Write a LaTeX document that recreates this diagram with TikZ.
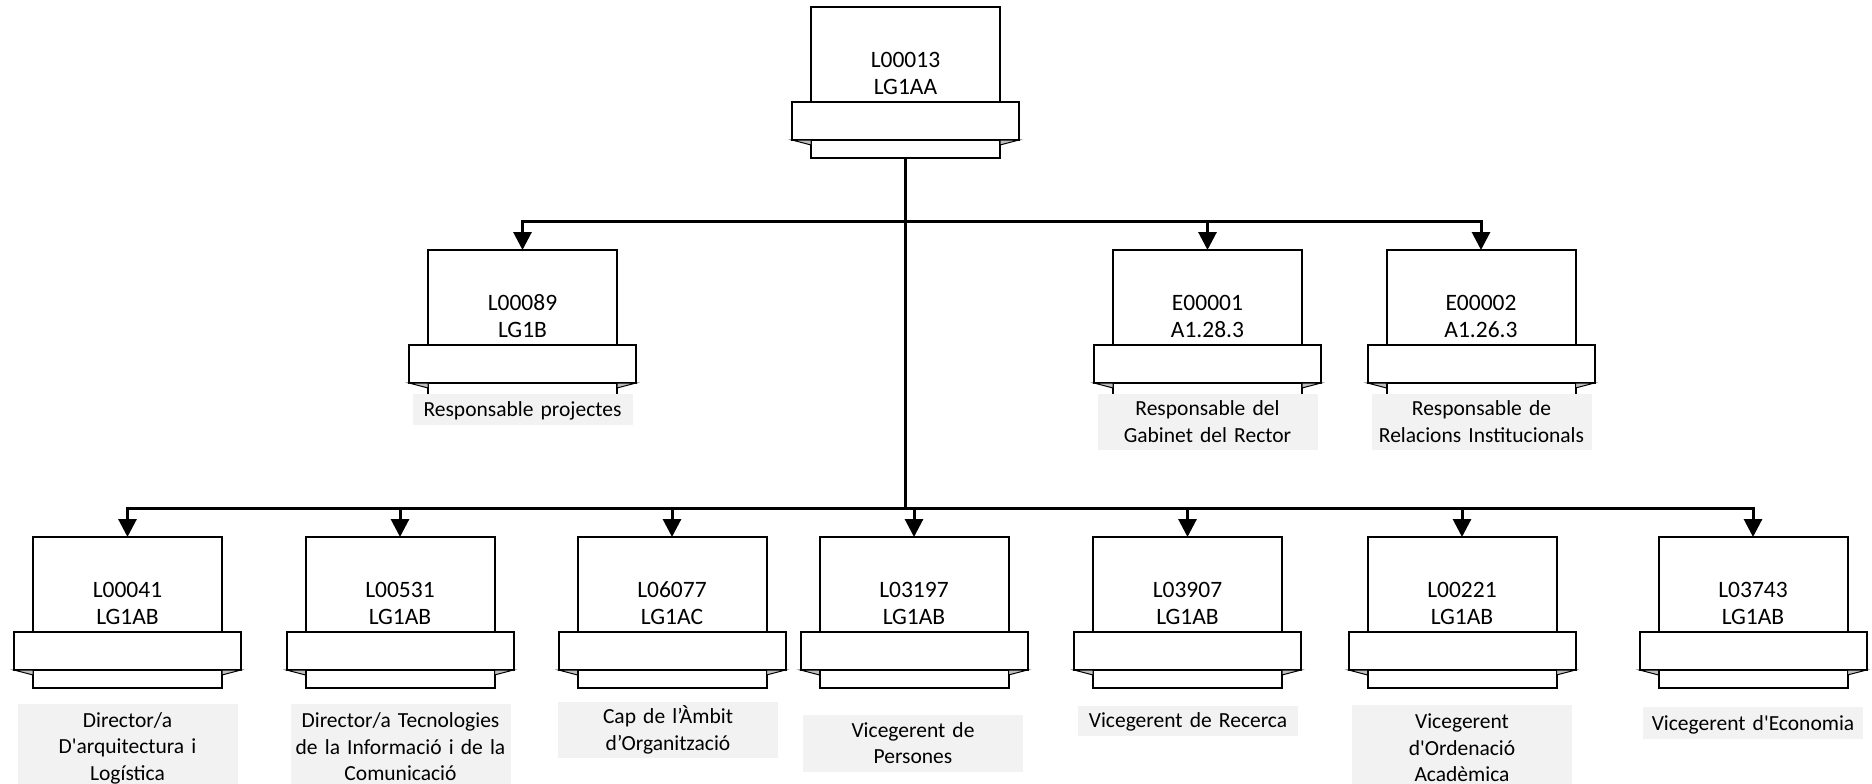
\documentclass[tikz,border=0pt]{standalone}
\usepackage{fontspec}
\setmainfont{Carlito}
\usetikzlibrary{arrows.meta}
\definecolor{rolefill}{HTML}{F2F2F2}
\definecolor{foldfill}{HTML}{BFBFBF}
\tikzset{
  upbox/.style={draw, line width=2pt, fill=white, minimum width=189pt, minimum height=95pt, inner sep=0pt, outer sep=0pt},
  bandbox/.style={draw, line width=2pt, fill=white, minimum width=227pt, minimum height=38pt, inner sep=0pt, outer sep=0pt},
  lowbox/.style={draw, line width=2pt, fill=white, minimum width=189pt, minimum height=18pt, inner sep=0pt, outer sep=0pt},
  fold/.style={draw, line width=1pt, fill=foldfill, line join=miter},
  idtext/.style={font=\fontsize{23.5}{27.6}\selectfont, align=center, text height=42.6pt, text depth=0pt, inner sep=0pt},
  role/.style={fill=rolefill, font=\fontsize{21.5}{26.5}\selectfont, align=center, text width=214pt, minimum width=220pt, text height=14pt, inner xsep=3pt, inner ysep=0pt, anchor=north},
  one/.style={role, text depth=0pt, minimum height=31pt},
  two/.style={role, text depth=26.5pt, minimum height=56.5pt},
  three/.style={role, text depth=53pt, minimum height=86pt},
  link/.style={line width=3pt},
  arr/.style={line width=3pt, -{Triangle[length=18pt,width=18pt]}}
}
\newcommand\OrgUnit[5]{%
  \node[upbox, anchor=north] (#1) at (#2,#3) {};
  \node[lowbox, anchor=north] (#1-l) at ([yshift=-38pt]#1.south) {};
  \node[bandbox, anchor=north] (#1-b) at (#1.south) {};
  \draw[fold] (#1-b.south west) -- (#1-l.west |- #1-b.south) -- ++(0,5) -- cycle;
  \draw[fold] (#1-b.south east) -- (#1-l.east |- #1-b.south) -- ++(0,5) -- cycle;
  \node[idtext] (#1-t) at (#2,{#3+66.5}) {#4\\#5};
}
\begin{document}
\begin{tikzpicture}[x=1pt,y=-1pt]
\useasboundingbox (0,0) rectangle (1872,784);
% units
\OrgUnit{top}{905.5}{7}{L00013}{LG1AA}
\OrgUnit{u89}{522.5}{250}{L00089}{LG1B}
\OrgUnit{e1}{1207.5}{250}{E00001}{A1.28.3}
\OrgUnit{e2}{1481}{250}{E00002}{A1.26.3}
\OrgUnit{u41}{127.5}{537}{L00041}{LG1AB}
\OrgUnit{u531}{400}{537}{L00531}{LG1AB}
\OrgUnit{u6077}{672}{537}{L06077}{LG1AC}
\OrgUnit{u3197}{914}{537}{L03197}{LG1AB}
\OrgUnit{u3907}{1187.5}{537}{L03907}{LG1AB}
\OrgUnit{u221}{1462}{537}{L00221}{LG1AB}
\OrgUnit{u3743}{1753}{537}{L03743}{LG1AB}
% role labels
\node[one] (r89) at (522.5,393.5) {Responsable projectes};
\node[two] (re1) at (1207.5,393.5) {Responsable del\\Gabinet del Rector};
\node[two] (re2) at (1481.5,393.5) {Responsable de\\Relacions Institucionals};
\node[three] (r41) at (127.5,703.5) {Director/a\\D\textquotesingle arquitectura i\\Logística};
\node[three] (r531) at (400.5,704) {Director/a Tecnologies\\de la Informació i de la\\Comunicació};
\node[two] (r6077) at (668,701.5) {Cap de l’Àmbit\\d’Organització};
\node[two] (r3197) at (913,715) {Vicegerent de\\Persones};
\node[one, minimum height=30pt] (r3907) at (1188,705.5) {Vicegerent de Recerca};
\node[three] (r221) at (1462,705) {Vicegerent\\d\textquotesingle Ordenació\\Acadèmica};
\node[one, minimum height=32pt] (r3743) at (1753,707) {Vicegerent d\textquotesingle Economia};
% connectors
\coordinate (bus1) at (905.5,221);
\coordinate (bus2) at (905.5,508);
\draw[link] (top-l.south) -- (bus2);
\foreach \c in {u89,e1,e2}{\draw[arr] (bus1) -| (\c.north);}
\foreach \c in {u41,u531,u6077,u3197,u3907,u221,u3743}{\draw[arr] (bus2) -| (\c.north);}
\end{tikzpicture}
\end{document}
